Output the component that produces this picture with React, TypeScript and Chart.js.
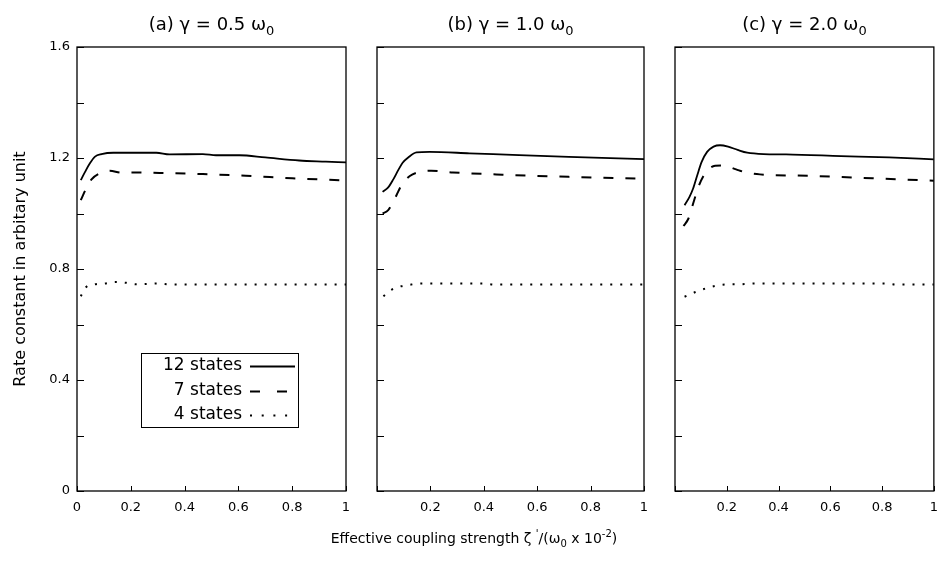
import React, { useEffect, useRef } from 'react';
import { Chart, registerables } from 'chart.js';

Chart.register(...registerables);

// ---------- text ----------
type Seg = { t: string; k?: 'sub' | 'sup' };
const panelTitles: Seg[][] = [
  [{ t: '(a) γ = 0.5 ω' }, { t: '0', k: 'sub' }],
  [{ t: '(b) γ = 1.0 ω' }, { t: '0', k: 'sub' }],
  [{ t: '(c) γ = 2.0 ω' }, { t: '0', k: 'sub' }],
];
const seriesLabels = ['12 states', '7 states', '4 states'];
const yAxisTitle = 'Rate constant in arbitary unit';
const xAxisTitle: Seg[] = [
  { t: 'Effective coupling strength ζ ' },
  { t: "'", k: 'sup' },
  { t: '/(ω' },
  { t: '0', k: 'sub' },
  { t: ' x 10' },
  { t: '-2', k: 'sup' },
  { t: ')' },
];

// ---------- axis ranges / ticks ----------
const xMin = 0;
const xMax = 1;
const xStep = 0.2;
const yMin = 0;
const yMax = 1.6;
const yStep = 0.2;
const yLabelEvery = 0.4;

// ---------- panel (a) γ = 0.5 ω0 ----------
const xA12 = [0.014, 0.030, 0.048, 0.067, 0.091, 0.135, 0.20, 0.295, 0.344, 0.468, 0.517, 0.604, 0.70, 0.826, 0.925, 1.0];
const yA12 = [1.120, 1.150, 1.181, 1.205, 1.214, 1.219, 1.219, 1.219, 1.213, 1.214, 1.210, 1.210, 1.202, 1.191, 1.187, 1.184];
const xA7 = [0.014, 0.036, 0.054, 0.079, 0.122, 0.165, 0.21, 0.307, 0.468, 0.628, 0.80, 1.0];
const yA7 = [1.048, 1.094, 1.123, 1.142, 1.154, 1.147, 1.148, 1.146, 1.142, 1.136, 1.127, 1.119];
const xA4 = [0.014, 0.032, 0.067, 0.104, 0.144, 0.185, 0.22, 0.26, 0.30, 0.34, 0.45, 0.6, 0.8, 1.0];
const yA4 = [0.702, 0.733, 0.745, 0.748, 0.753, 0.750, 0.745, 0.746, 0.748, 0.745, 0.744, 0.744, 0.744, 0.744];

// ---------- panel (b) γ = 1.0 ω0 ----------
const xB12 = [0.021, 0.042, 0.061, 0.080, 0.096, 0.117, 0.148, 0.197, 0.346, 0.532, 0.718, 1.0];
const yB12 = [1.078, 1.094, 1.123, 1.157, 1.183, 1.202, 1.220, 1.222, 1.217, 1.210, 1.204, 1.196];
const xB7 = [0.021, 0.042, 0.054, 0.073, 0.092, 0.123, 0.160, 0.203, 0.284, 0.47, 0.718, 1.0];
const yB7 = [1.000, 1.012, 1.030, 1.066, 1.102, 1.135, 1.150, 1.154, 1.148, 1.140, 1.132, 1.125];
const xB4 = [0.024, 0.054, 0.091, 0.128, 0.167, 0.25, 0.40, 0.44, 0.6, 0.8, 1.0];
const yB4 = [0.702, 0.725, 0.738, 0.744, 0.748, 0.748, 0.748, 0.744, 0.744, 0.744, 0.744];

// ---------- panel (c) γ = 2.0 ω0 ----------
const xC12 = [0.037, 0.056, 0.070, 0.086, 0.103, 0.124, 0.149, 0.174, 0.205, 0.242, 0.279, 0.342, 0.429, 0.641, 0.827, 1.0];
const yC12 = [1.030, 1.060, 1.090, 1.138, 1.186, 1.222, 1.241, 1.246, 1.241, 1.229, 1.219, 1.214, 1.213, 1.207, 1.202, 1.195];
const xC7 = [0.033, 0.052, 0.074, 0.093, 0.118, 0.155, 0.186, 0.236, 0.266, 0.328, 0.515, 0.763, 1.0];
const yC7 = [0.955, 0.982, 1.048, 1.102, 1.147, 1.172, 1.173, 1.159, 1.150, 1.141, 1.136, 1.127, 1.118];
const xC4 = [0.037, 0.082, 0.119, 0.156, 0.195, 0.25, 0.309, 0.5, 0.7, 0.813, 0.851, 1.0];
const yC4 = [0.700, 0.718, 0.730, 0.739, 0.744, 0.745, 0.748, 0.748, 0.748, 0.748, 0.744, 0.744];

const panelSeries = [
  [[xA12, yA12], [xA7, yA7], [xA4, yA4]],
  [[xB12, yB12], [xB7, yB7], [xB4, yB4]],
  [[xC12, yC12], [xC7, yC7], [xC4, yC4]],
];

// ---------- layout (pixels) ----------
const W = 947;
const H = 563;
const FONT = '"DejaVu Sans", Verdana, sans-serif';
const plotTop = 47;
const plotBottom = 491;
const panelBoxes = [
  { left: 77, right: 346 },
  { left: 377, right: 644 },
  { left: 675, right: 943 },
];
const lineStyles = [
  { borderWidth: 1.8, borderDash: [] as number[], legendDash: [] as number[] },
  { borderWidth: 2, borderDash: [10, 12], legendDash: [10, 17] },
  { borderWidth: 2, borderDash: [2, 8], legendDash: [2, 9.7] },
];

const fmt = (v: number) => {
  const r = Math.round(v * 10) / 10;
  if (r === 0) return '0';
  if (r === 1) return '1';
  return r.toFixed(1);
};

function drawRich(ctx: CanvasRenderingContext2D, segs: Seg[], cx: number, cy: number, size: number) {
  const fontFor = (k?: string) => `${k ? Math.round(size * 0.72) : size}px ${FONT}`;
  let total = 0;
  segs.forEach((s) => {
    ctx.font = fontFor(s.k);
    total += ctx.measureText(s.t).width;
  });
  let x = cx - total / 2;
  ctx.textAlign = 'left';
  ctx.textBaseline = 'alphabetic';
  const base = cy + size * 0.36;
  segs.forEach((s) => {
    ctx.font = fontFor(s.k);
    const dy = s.k === 'sub' ? size * 0.25 : s.k === 'sup' ? -size * 0.4 : 0;
    ctx.fillText(s.t, x, base + dy);
    x += ctx.measureText(s.t).width;
  });
}

const framePlugin = {
  id: 'frame',
  afterDraw(chart: any, _args: any, opts: any) {
    const { ctx, chartArea, scales } = chart;
    const { left, right, top, bottom } = chartArea;
    ctx.save();
    ctx.strokeStyle = '#000';
    ctx.lineWidth = 1.3;
    ctx.strokeRect(left, top, right - left, bottom - top);
    ctx.lineWidth = 1;
    ctx.beginPath();
    scales.y.ticks.forEach((t: any) => {
      const py = Math.round(scales.y.getPixelForValue(t.value)) + 0.5;
      ctx.moveTo(left, py);
      ctx.lineTo(left + 7, py);
    });
    scales.x.ticks.forEach((t: any) => {
      const px = Math.round(scales.x.getPixelForValue(t.value)) + 0.5;
      ctx.moveTo(px, bottom);
      ctx.lineTo(px, bottom - 5);
    });
    ctx.stroke();

    ctx.fillStyle = '#000';
    // panel title
    drawRich(ctx, opts.title, (left + right) / 2, 24, 18);

    // shared x-axis title
    if (opts.xTitle) {
      drawRich(ctx, opts.xTitle, 474, 538, 14);
    }

    // legend
    if (opts.legend) {
      const bx = left + 64;
      const by = top + 306;
      ctx.lineWidth = 1;
      ctx.strokeStyle = '#000';
      ctx.strokeRect(bx + 0.5, by + 0.5, 157, 74);
      ctx.font = `17px ${FONT}`;
      ctx.textAlign = 'right';
      ctx.textBaseline = 'middle';
      chart.data.datasets.forEach((ds: any, i: number) => {
        const ry = top + 319 + i * 24.5;
        ctx.fillText(ds.label, left + 165, ry);
        ctx.save();
        ctx.lineWidth = ds.borderWidth;
        ctx.setLineDash(lineStyles[i].legendDash);
        ctx.beginPath();
        ctx.moveTo(left + 173, Math.round(ry) + 0.5);
        ctx.lineTo(left + 218, Math.round(ry) + 0.5);
        ctx.stroke();
        ctx.restore();
      });
    }
    ctx.restore();
  },
};

function Panel({ index }: { index: number }) {
  const ref = useRef<HTMLCanvasElement | null>(null);
  useEffect(() => {
    if (!ref.current) return;
    const box = panelBoxes[index];
    const datasets = panelSeries[index].map(([xs, ys], s) => ({
      label: seriesLabels[s],
      data: xs.map((x, k) => ({ x, y: ys[k] })),
      borderColor: '#000',
      borderWidth: lineStyles[s].borderWidth,
      borderDash: lineStyles[s].borderDash,
      pointRadius: 0,
      fill: false,
      cubicInterpolationMode: 'monotone' as const,
    }));
    const chart = new Chart(ref.current, {
      type: 'line',
      data: { datasets },
      plugins: [framePlugin],
      options: {
        animation: false,
        responsive: false,
        maintainAspectRatio: false,
        events: [],
        layout: { padding: { left: 0, top: plotTop, right: W - box.right, bottom: 0 } },
        plugins: {
          legend: { display: false },
          tooltip: { enabled: false },
          title: { display: false },
          frame: { title: panelTitles[index], legend: index === 0, xTitle: index === 1 ? xAxisTitle : null },
        } as any,
        scales: {
          x: {
            type: 'linear',
            min: xMin,
            max: xMax,
            grid: { display: false, drawTicks: false },
            border: { display: false },
            ticks: {
              stepSize: xStep,
              padding: 9,
              color: '#000',
              font: { family: FONT, size: 13 },
              maxRotation: 0,
              callback: (v: any) => {
                const s = fmt(Number(v));
                return index > 0 && s === '0' ? '' : s;
              },
            },
            afterFit: (scale: any) => {
              scale.height = H - plotBottom;
            },
          },
          y: {
            type: 'linear',
            min: yMin,
            max: yMax,
            grid: { display: false, drawTicks: false },
            border: { display: false },
            title: {
              display: index === 0,
              text: yAxisTitle,
              color: '#000',
              font: { family: FONT, size: 16 },
              padding: { top: 11, bottom: 0 },
            },
            ticks: {
              stepSize: yStep,
              padding: 7,
              color: '#000',
              font: { family: FONT, size: 13 },
              callback: (v: any) => {
                if (index > 0) return '';
                const n = Number(v);
                const k = Math.round((n / yLabelEvery) * 1000) / 1000;
                return Number.isInteger(k) ? fmt(n) : '';
              },
            },
            afterFit: (scale: any) => {
              scale.width = box.left;
            },
          },
        },
      },
    });
    return () => chart.destroy();
  }, [index]);
  return (
    <canvas
      ref={ref}
      width={W}
      height={H}
      style={{ position: 'absolute', left: 0, top: 0, width: W, height: H }}
    />
  );
}

export default function App() {
  return (
    <div style={{ position: 'absolute', left: 0, top: 0, width: W, height: H, background: '#fff' }}>
      <Panel index={0} />
      <Panel index={1} />
      <Panel index={2} />
    </div>
  );
}
